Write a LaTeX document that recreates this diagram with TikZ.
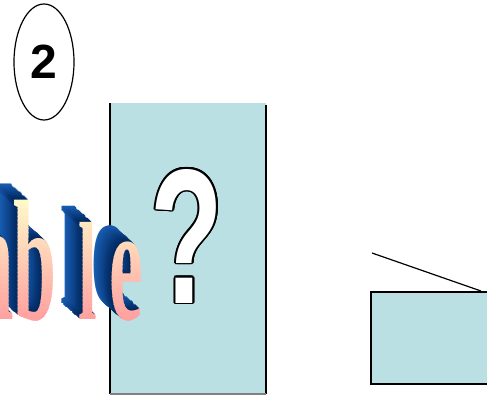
\documentclass[tikz,border=0pt]{standalone}
\usepackage{fontspec}
\setmainfont{Liberation Serif}
\newfontfamily\headfont{Liberation Sans}
\usetikzlibrary{shapes.geometric,calc}
\definecolor{cardfill}{RGB}{187,224,227}
\definecolor{sideblue}{RGB}{25,95,180}
\definecolor{sidenavy}{RGB}{0,38,92}
\definecolor{topyellow}{RGB}{255,255,205}
\definecolor{basepink}{RGB}{255,158,158}
\tikzset{
  badge/.style={ellipse,draw=black,line width=1.2pt,minimum width=60pt,
    minimum height=116pt,inner sep=0pt,font=\headfont\bfseries\fontsize{48}{48}\selectfont},
  card/.style={rectangle,fill=cardfill,minimum width=156pt,minimum height=291pt,inner sep=0pt},
  crate/.style={rectangle,fill=cardfill,draw=black,line width=2pt,
    minimum width=168pt,minimum height=92pt,inner sep=0pt},
  rim/.style={draw=black,line width=2pt},
  lid/.style={draw=black,line width=1.2pt},
  qmark/.style={font=\headfont\bfseries\fontsize{192}{192}\selectfont,anchor=base,inner sep=0pt},
  letter/.style={anchor=base west,inner sep=0pt}
}
% the four letters of the word, in one colour
\newcommand{\wordglyphs}[1]{%
  \node[letter,text=#1,font=\bfseries\fontsize{175}{175}\selectfont] at (-52,319) {\scalebox{0.45}[1]{m}};
  \node[letter,text=#1,font=\bfseries\fontsize{172}{172}\selectfont] at (13,319) {\scalebox{0.45}[1]{b}};
  \node[letter,text=#1,font=\bfseries\fontsize{140}{140}\selectfont] at (78,319) {\scalebox{0.48}[1]{l}};
  \node[letter,text=#1,font=\bfseries\fontsize{165}{165}\selectfont] at (109,319) {\scalebox{0.46}[1]{e}};
}

\begin{document}
\begin{tikzpicture}[x=1pt,y=-1pt]
  \useasboundingbox (0,0) rectangle (487,396);
  \clip (0,0) rectangle (487,396);

  % card with the question mark
  \node[card] (card) at (188,248.5) {};
  \draw[rim] (card.north west) -- (card.south west);
  \draw[rim] ($(card.north east)+(0,2)$) -- (card.south east);
  \draw[gray,line width=1.5pt] (card.south west) -- (card.south east);
  \foreach \a in {0,22.5,...,337.5}
    \node[qmark,text=black] at ($(187,303)+(\a:1.7)$) {\scalebox{0.62}[1]{?}};
  \node[qmark,text=white] (question) at (187,303) {\scalebox{0.62}[1]{?}};

  % number badge
  \node[badge] (number) at (44,62) {2};

  % box and lid
  \node[crate] (crate) at (455,338) {};
  \coordinate (lidtail) at (372,253);
  \coordinate (lidtip) at ($(crate.north west)+(111,0)$);
  \draw[lid] (lidtail) -- (lidtip);

  % extruded word
  \foreach \s in {1,0.95,...,0} {
    \pgfmathsetmacro\mix{100*\s}
    \colorlet{sidecol}{sideblue!\mix!sidenavy}
    \begin{scope}[shift={({-18*\s},{-16*\s})}]
      \wordglyphs{sidecol}
    \end{scope}
  }
  \foreach \yy in {176,180,...,328} {
    \pgfmathsetmacro\mix{max(0,min(100,(\yy-190)/1.3))}
    \colorlet{frontcol}{basepink!\mix!topyellow}
    \begin{scope}
      \clip (-60,\yy) rectangle (170,\yy+4);
      \wordglyphs{frontcol}
    \end{scope}
  }
\end{tikzpicture}
\end{document}
